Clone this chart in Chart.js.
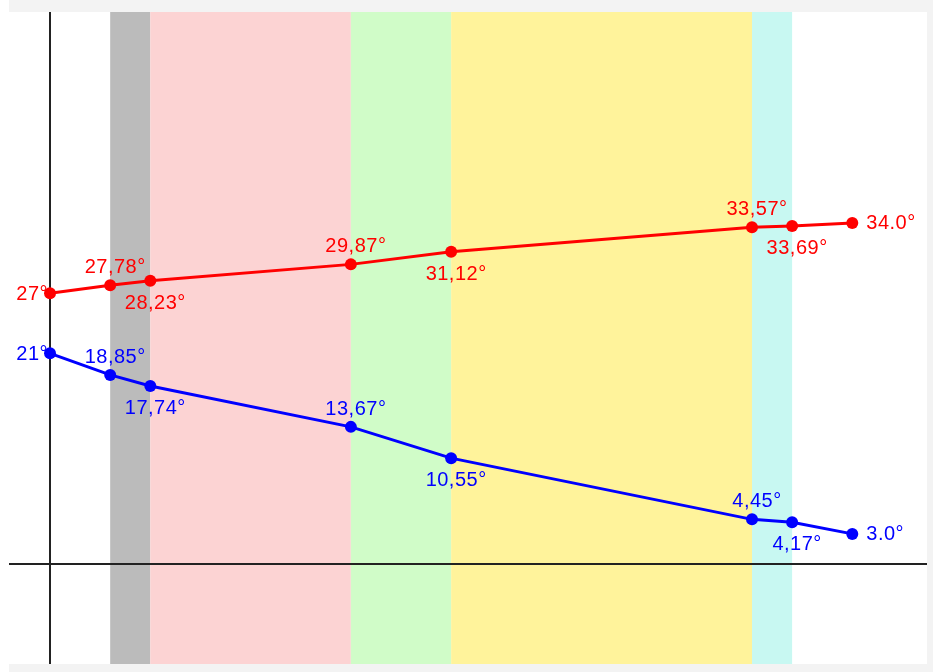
<!DOCTYPE html>
<html>
<head>
<meta charset="utf-8">
<script src="https://cdn.jsdelivr.net/npm/chart.js@4.4.1/dist/chart.umd.min.js"></script>
<style>
  html, body { margin: 0; padding: 0; background: #ffffff; }
  canvas { display: block; }
</style>
</head>
<body>
<canvas id="chart" width="933" height="672"></canvas>
<script>
// x positions of the readings
const xValues = [0, 6, 10, 30, 40, 70, 74, 80];

// upper (red) and lower (blue) series
const redValues = [27, 27.78, 28.23, 29.87, 31.12, 33.57, 33.69, 34.0];
const redLabels = ['27°', '27,78°', '28,23°', '29,87°', '31,12°', '33,57°', '33,69°', '34.0°'];
const blueValues = [21, 18.85, 17.74, 13.67, 10.55, 4.45, 4.17, 3.0];
const blueLabels = ['21°', '18,85°', '17,74°', '13,67°', '10,55°', '4,45°', '4,17°', '3.0°'];

// label placement per point: left, above, below, right
const labelPlaces = ['left', 'above', 'below', 'above', 'below', 'above', 'below', 'right'];

// coloured bands along x
const bandStarts = [6, 10, 30, 40, 70];
const bandEnds = [10, 30, 40, 70, 74];
const bandColors = ['#bbbbbb', '#fcd3d3', '#d0fcc8', '#fff39b', '#c8f8f2'];

const toPoints = (vals) => xValues.map((x, i) => ({ x: x, y: vals[i] }));

// Frame, bands and axis lines
const backdropPlugin = {
    id: 'backdrop',
    beforeDraw: function(chart) {
        const ctx = chart.ctx;
        const area = chart.chartArea;
        const xs = chart.scales.x;
        const ys = chart.scales.y;
        ctx.save();
        ctx.fillStyle = '#ffffff';
        ctx.fillRect(0, 0, chart.width, chart.height);
        ctx.fillStyle = '#f3f3f3';
        ctx.fillRect(area.left, 0, chart.width - area.left, area.top);
        ctx.fillRect(area.left, area.bottom, chart.width - area.left, chart.height - area.bottom);
        ctx.fillRect(area.right, 0, chart.width - area.right, chart.height);

        bandStarts.forEach(function(start, i) {
            const x0 = xs.getPixelForValue(start);
            const x1 = xs.getPixelForValue(bandEnds[i]);
            ctx.fillStyle = bandColors[i];
            ctx.fillRect(x0, area.top, x1 - x0, area.bottom - area.top);
        });

        // axes through zero
        ctx.strokeStyle = '#222222';
        ctx.lineWidth = 2;
        const x0 = Math.round(xs.getPixelForValue(0));
        const y0 = Math.round(ys.getPixelForValue(0));
        ctx.beginPath();
        ctx.moveTo(x0, area.top);
        ctx.lineTo(x0, area.bottom);
        ctx.moveTo(area.left, y0);
        ctx.lineTo(area.right, y0);
        ctx.stroke();
        ctx.restore();
    }
};

// Value labels next to each point
const labelPlugin = {
    id: 'valueLabels',
    afterDatasetsDraw: function(chart) {
        const ctx = chart.ctx;
        ctx.save();
        ctx.font = '20px "Liberation Sans", Arial, sans-serif';
        ctx.letterSpacing = '0.5px';
        chart.data.datasets.forEach(function(dataset, di) {
            const meta = chart.getDatasetMeta(di);
            ctx.fillStyle = dataset.borderColor;
            meta.data.forEach(function(el, i) {
                const text = dataset.labelTexts[i];
                const place = labelPlaces[i];
                if (place === 'left') {
                    ctx.textAlign = 'right';
                    ctx.textBaseline = 'middle';
                    ctx.fillText(text, el.x - 2, el.y + 1);
                } else if (place === 'right') {
                    ctx.textAlign = 'left';
                    ctx.textBaseline = 'middle';
                    ctx.fillText(text, el.x + 14, el.y + 1);
                } else if (place === 'above') {
                    ctx.textAlign = 'center';
                    ctx.textBaseline = 'alphabetic';
                    ctx.fillText(text, el.x + 5, el.y - 12);
                } else {
                    ctx.textAlign = 'center';
                    ctx.textBaseline = 'alphabetic';
                    ctx.fillText(text, el.x + 5, el.y + 28);
                }
            });
        });
        ctx.restore();
    }
};

const config = {
    type: 'line',
    data: {
        datasets: [
            {
                data: toPoints(redValues),
                labelTexts: redLabels,
                borderColor: '#ff0000',
                backgroundColor: '#ff0000',
                borderWidth: 3,
                pointRadius: 6,
                pointBorderWidth: 0,
                tension: 0
            },
            {
                data: toPoints(blueValues),
                labelTexts: blueLabels,
                borderColor: '#0000ff',
                backgroundColor: '#0000ff',
                borderWidth: 3,
                pointRadius: 6,
                pointBorderWidth: 0,
                tension: 0
            }
        ]
    },
    plugins: [backdropPlugin, labelPlugin],
    options: {
        responsive: false,
        animation: false,
        layout: { padding: { left: 9, top: 12, right: 2, bottom: 8 } },
        plugins: {
            legend: { display: false },
            tooltip: { enabled: false }
        },
        scales: {
            x: { type: 'linear', min: -4.09, max: 87.45, display: false },
            y: { type: 'linear', min: -9.97, max: 55.03, display: false }
        }
    }
};

new Chart(document.getElementById('chart'), config);
</script>
</body>
</html>
